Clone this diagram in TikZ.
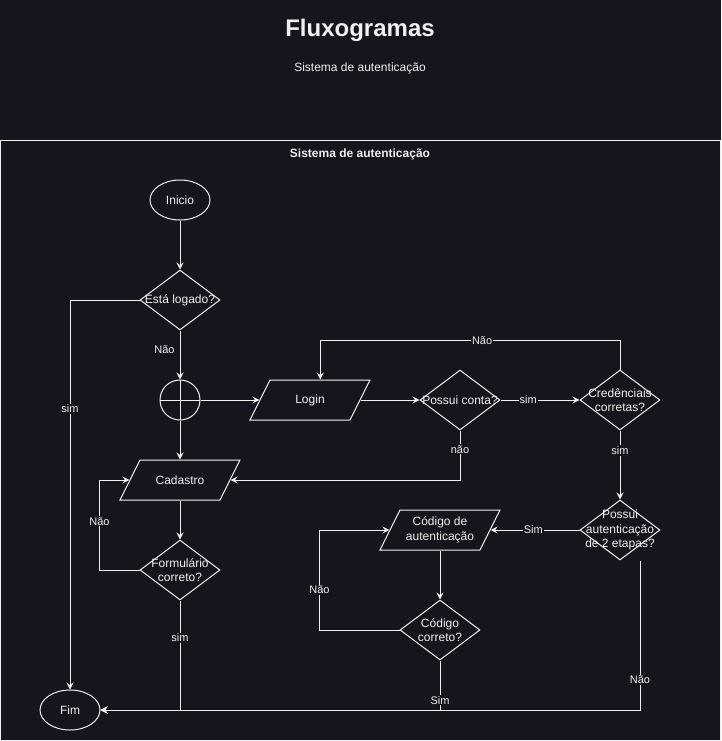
\documentclass[tikz,border=0pt]{standalone}
\usepackage{fontspec}
\setmainfont{Liberation Sans}
\usepackage{tikz}
\usetikzlibrary{shapes.geometric}
\usetikzlibrary{positioning,shapes,arrows.meta,calc}
\definecolor{bgdark}{RGB}{24, 20, 29}
\definecolor{linegrey}{RGB}{240, 240, 240}

\begin{document}
\begin{tikzpicture}[x=1pt, y=1pt, node distance=100pt,
terminal/.style ={ellipse, draw=linegrey, line width=1pt, minimum width=60pt, minimum height=40pt, inner sep=0pt, text=linegrey, font=\fontsize{12}{14.5}\selectfont},
decision/.style ={diamond, draw=linegrey, line width=1pt, minimum width=80pt, minimum height=60pt, inner sep=0pt},
dtext/.style ={align=center, text=linegrey, inner sep=0pt, font=\fontsize{12}{14.5}\selectfont},
io/.style ={trapezium, trapezium left angle=63.43, trapezium right angle=116.57, trapezium stretches body, draw=linegrey, line width=1pt, text height=20pt, text depth=20pt, text width=0pt, minimum width=120pt, inner sep=0pt},
junction/.style ={circle, draw=linegrey, line width=1pt, minimum size=40pt, inner sep=0pt,
  path picture={\draw[linegrey, line width=1pt] (path picture bounding box.north) -- (path picture bounding box.south) (path picture bounding box.west) -- (path picture bounding box.east);}},
flow/.style ={-{Stealth[length=7pt,width=7pt,inset=2.5pt]}, draw=linegrey, line width=1pt},
connection/.style ={-, draw=linegrey, line width=1pt},
lbl/.style ={fill=bgdark, text=linegrey, inner sep=1pt, font=\fontsize{11}{13}\selectfont},
]

\fill[bgdark] (0,0) rectangle (721,-741);
\useasboundingbox (0,0) rectangle (721,-741);

\node (TITULO) [text=linegrey, font=\fontsize{24}{28}\selectfont\bfseries] at (360,-30) {Fluxogramas};
\node (SUBTITULO) [below of=TITULO, node distance=38pt, text=linegrey, font=\fontsize{12}{14.5}\selectfont] {Sistema de autenticação};

% group frame
\draw[connection] (0.5,-140.5) rectangle (720,-740);
\node (GRUPO) [text=linegrey, font=\fontsize{12}{14.5}\selectfont\bfseries] at (360,-154) {Sistema de autenticação};


\node (INICIO) [terminal] at (180,-200) {Inicio};
\node (LOGADO) [decision, below of=INICIO, label={[dtext]center:Está logado?}] {};
\node (JUNCAO) [junction, below of=LOGADO] {};
\node (LOGIN) [io, right of=JUNCAO, node distance=130pt, label={[dtext]center:Login}] {};
\node (CONTA) [decision, right of=LOGIN, node distance=150pt, label={[dtext]center:Possui conta?}] {};
\node (CRED) [decision, right of=CONTA, node distance=160pt, label={[dtext]center:Credênciais\\corretas?}] {};
\node (CADASTRO) [io, below of=JUNCAO, node distance=80pt, label={[dtext]center:Cadastro}] {};
\node (FORM) [decision, below of=CADASTRO, node distance=90pt, label={[dtext]center:Formulário\\correto?}] {};
\node (ETAPAS) [decision, below of=CRED, node distance=130pt, label={[dtext]center:Possui\\autenticação\\de 2 etapas?}] {};
\node (CODIGO) [io, left of=ETAPAS, node distance=180pt, label={[dtext]center:Código de\\autenticação}] {};
\node (CORRETO) [decision, below of=CODIGO, node distance=100pt, label={[dtext]center:Código\\correto?}] {};
\node (FIM) [terminal] at (70,-710) {Fim};

\coordinate (ETAPASOUT) at ($(ETAPAS.south)+(20,0)$);


\draw[flow] (INICIO) -- (LOGADO);
\draw[flow] (LOGADO.west) -| node[lbl, pos=0.64] {sim} (FIM.north);
\draw[flow] (LOGADO) -- node[lbl, pos=0.38, left, xshift=-4pt] {Não} (JUNCAO);
\draw[flow] (JUNCAO) -- (LOGIN.left side);
\draw[flow] (JUNCAO) -- (CADASTRO);
\draw[flow] (LOGIN.right side) -- (CONTA);
\draw[flow] (CONTA) -- node[lbl, pos=0.35] {sim} (CRED);
\draw[flow] (CRED.north) -- ++(0,29) -| node[lbl, pos=0.23] {Não} (LOGIN.top side);
\draw[flow] (CONTA.south) |- node[lbl, pos=0.19] {não} (CADASTRO.right side);
\draw[flow] (CRED) -- node[lbl, pos=0.29] {sim} (ETAPAS);
\draw[flow] (CADASTRO) -- (FORM);
\draw[flow] (FORM.west) -- ++(-40,0) |- node[lbl, pos=0.27] {Não} (CADASTRO.left side);
\draw[flow] (FORM.south) |- node[lbl, pos=0.17] {sim} (FIM.east);
\draw[flow] (ETAPAS) -- node[lbl, pos=0.52] {Sim} (CODIGO.right side);
\draw[flow] (CODIGO) -- (CORRETO);
\draw[flow] (CORRETO.west) -- ++(-80,0) |- node[lbl, pos=0.2] {Não} (CODIGO.left side);
\draw[flow] (CORRETO.south) |- node[lbl, pos=0.4] {Sim} (FIM.east);
\draw[flow] (ETAPASOUT) |- node[lbl, pos=0.4] {Não} (FIM.east);

\end{tikzpicture}
\end{document}
